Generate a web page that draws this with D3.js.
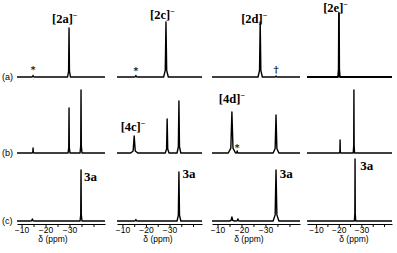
<!DOCTYPE html>
<html>
<head>
<meta charset="utf-8">
<script src="https://cdn.jsdelivr.net/npm/d3@7"></script>
<style>
  body { margin: 0; background: #fff; }
  svg { display: block; }
  .axis path, .axis line { stroke: #000; stroke-width: 1; }
  .axis text { font-family: Arial, "Liberation Sans", sans-serif; font-size: 8.5px; fill: #000; }
</style>
</head>
<body>
<div id="chart"></div>
<script>
// ppm domains of the four panel columns (left edge, right edge)
const axisDomains = [[-8.1, -44.8], [-7.7, -43.8], [-7.7, -44.4], [-6.0, -43.5]];
const tickValues = [-10, -15, -20, -25, -30, -35, -40];
const labeledTicks = [-10, -20, -30];
const rowNames = ['(a)', '(b)', '(c)'];
const axisTitlePpm = [-23.1, -25.1, -23.1, -26.7];

// peaks per column: [ppm, intensity, half width in ppm]
const peaksRowA = [
  [[-14.8, 1.5, 0.8], [-29.8, 49, 0.6]],
  [[-15.7, 1.5, 0.8], [-28.5, 55, 1.0]],
  [[-27.8, 55, 0.9], [-34.4, 1, 0.6]],
  [[-20.1, 64, 0.4]]
];
const peaksRowB = [
  [[-14.8, 5, 0.4], [-29.8, 45, 0.4], [-34.8, 63, 0.4]],
  [[-15.0, 17, 1.5], [-29.0, 34, 0.8], [-34.0, 52, 0.8]],
  [[-16.0, 41, 1.5], [-18.2, 2, 0.6], [-34.4, 38, 1.2]],
  [[-20.6, 13, 0.3], [-26.7, 63, 0.3]]
];
const peaksRowC = [
  [[-14.5, 2, 1.0], [-34.8, 51, 0.4]],
  [[-15.7, 1.5, 0.8], [-34.0, 49, 0.8]],
  [[-16.0, 4, 1.2], [-18.5, 2, 1.0], [-34.4, 51, 1.2]],
  [[-27.2, 62, 0.3]]
];

// annotations: [row, col, ppm, text]
const speciesLabels = [
  [0, 0, -28.0, '2a'], [0, 1, -27.0, '2c'], [0, 2, -25.3, '2d'], [0, 3, -18.6, '2e'],
  [1, 1, -14.5, '4c'], [1, 2, -16.0, '4d']
];
const compoundLabels = [[2, 0, -36.0, '3a'], [2, 1, -35.5, '3a'], [2, 2, -36.0, '3a'], [2, 3, -29.5, '3a']];
const markers = [[0, 0, -14.8, '*'], [0, 1, -15.7, '*'], [0, 2, -34.4, '\u2020'], [1, 2, -18.2, '*']];

const W = 397, H = 253;
const colRanges = [[17, 105], [117, 202], [212, 300], [307, 392]];
const baselines = [77, 153, 221];
const axisY = 224;
const speciesY = [[23, 19, 23, 12], [0, 131, 103, 0]];
const compoundY = [181, 178, 178, 170];
const markerDy = [[-4, -3, -4, 0], [0, 0, -2, 0]];

const svg = d3.select('#chart').append('svg')
  .attr('width', W).attr('height', H);

const xScales = axisDomains.map((d, i) => d3.scaleLinear().domain(d).range(colRanges[i]));
const yScales = baselines.map(b => d3.scaleLinear().domain([0, 100]).range([b, b - 100]));

const line = d3.line().x(d => d[0]).y(d => d[1]);

[peaksRowA, peaksRowB, peaksRowC].forEach((row, r) => {
  row.forEach((peaks, c) => {
    const x = xScales[c], y = yScales[r];
    const dom = axisDomains[c];
    let pts = [[x(dom[0]), y(0)]];
    peaks.slice().sort((a, b) => b[0] - a[0]).forEach(p => {
      const [ppm, h, w] = p;
      pts.push([x(ppm + w), y(0)]);
      pts.push([x(ppm + w * 0.3), y(h * 0.12)]);
      pts.push([x(ppm), y(h)]);
      pts.push([x(ppm - w * 0.3), y(h * 0.12)]);
      pts.push([x(ppm - w), y(0)]);
    });
    pts.push([x(dom[1]), y(0)]);
    svg.append('path')
      .attr('d', line(pts))
      .attr('fill', 'none')
      .attr('stroke', '#000')
      .attr('stroke-width', (r === 0 && c === 3) ? 1.8 : 1.4)
      .attr('stroke-linejoin', 'round');
  });
});

// row labels
rowNames.forEach((t, r) => {
  svg.append('text')
    .attr('x', 2).attr('y', baselines[r] + 3)
    .attr('font-family', 'Arial, sans-serif').attr('font-size', 9)
    .text(t);
});

// axes
xScales.forEach((x, c) => {
  svg.append('g')
    .attr('class', 'axis')
    .attr('transform', `translate(0,${axisY})`)
    .call(d3.axisBottom(x)
      .tickValues(tickValues)
      .tickSize(3)
      .tickSizeOuter(0)
      .tickPadding(0)
      .tickFormat(v => labeledTicks.includes(v) ? '\u2212' + Math.abs(v) : ''));
  svg.append('text')
    .attr('x', x(axisTitlePpm[c])).attr('y', 242)
    .attr('text-anchor', 'middle')
    .attr('font-family', 'Arial, sans-serif').attr('font-size', 8.5)
    .text('\u03b4 (ppm)');
});

// species labels [..]⁻
speciesLabels.forEach(([r, c, ppm, t]) => {
  const txt = svg.append('text')
    .attr('x', xScales[c](ppm)).attr('y', speciesY[r][c])
    .attr('text-anchor', 'middle')
    .attr('font-family', '"Liberation Serif", "Times New Roman", serif')
    .attr('font-weight', 'bold').attr('font-size', 12.5);
  txt.append('tspan').text('[' + t + ']');
  txt.append('tspan').attr('dy', -5).attr('font-size', 8).text('\u2212');
});

compoundLabels.forEach(([r, c, ppm, t]) => {
  svg.append('text')
    .attr('x', xScales[c](ppm)).attr('y', compoundY[c])
    .attr('font-family', '"Liberation Serif", "Times New Roman", serif')
    .attr('font-weight', 'bold').attr('font-size', 13)
    .text(t);
});

markers.forEach(([r, c, ppm, t]) => {
  svg.append('text')
    .attr('x', xScales[c](ppm)).attr('y', baselines[r] + markerDy[r][c])
    .attr('text-anchor', 'middle')
    .attr('fill', '#000')
    .attr('font-family', '"DejaVu Serif", serif')
    .attr('font-weight', 'bold').attr('font-size', t === '*' ? 9 : 10)
    .text(t);
});
</script>
</body>
</html>
